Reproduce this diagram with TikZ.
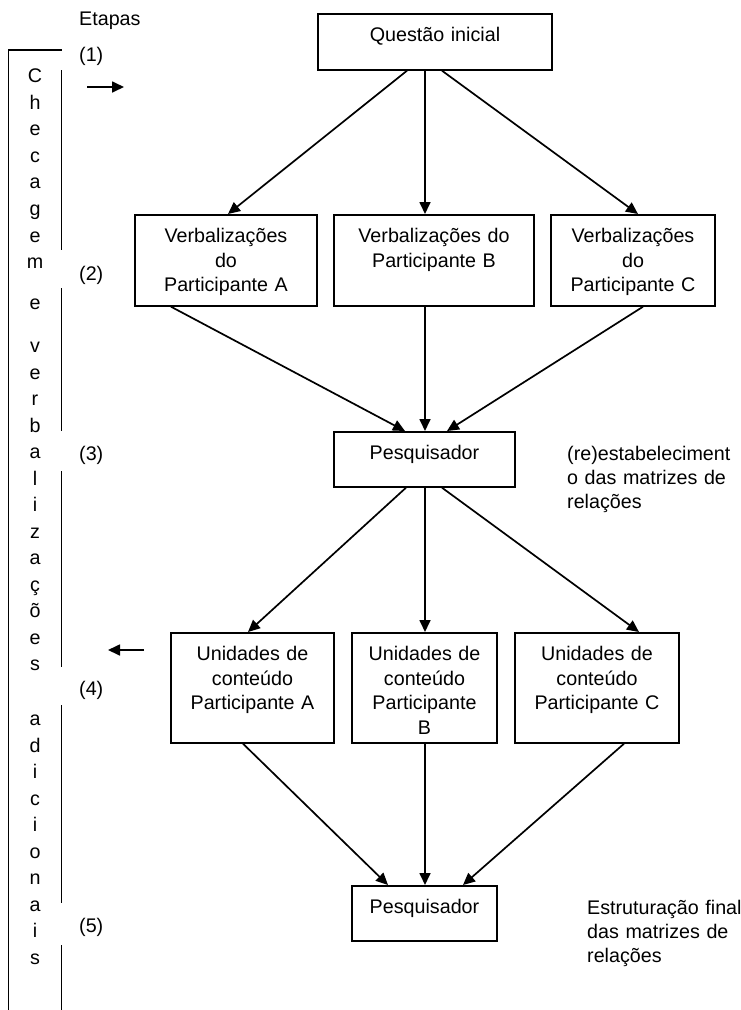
\documentclass[tikz,border=0pt]{standalone}
\usepackage{fontspec}
\setmainfont{Liberation Sans}
\usepackage{tikz}
\usetikzlibrary{arrows.meta,calc}

\begin{document}
\begin{tikzpicture}[x=1pt, y=-1pt,
  every node/.style={font=\fontsize{19.7}{24.4}\selectfont},
  caixa/.style={draw, line width=1.7pt, align=center, inner sep=0pt, anchor=north, text height=28pt},
  seta/.style={-{Triangle[length=12pt,width=11pt]}, line width=1.7pt},
  linha/.style={line width=1.7pt},
  letra/.style={anchor=base, inner sep=0pt},
  etapa/.style={anchor=base west, inner sep=0pt},
  nota/.style={anchor=base west, inner sep=0pt, align=left, text width=175pt}]
\path[fill=white, use as bounding box] (0,0) rectangle (741,1010);

% coluna da esquerda
\draw[linha] (8.5,1012) -- (8.5,50) -- (62,50);
\foreach \a/\b in {70/250, 288/431, 471/667, 705/903, 945/1012}
  \draw[linha] (61.5,\a) -- (61.5,\b);
\foreach \l/\y [count=\i] in {C/82, h/109, e/135, c/162, a/188, g/215, e/242, m/268,
    e/309, v/352, e/379, r/405, b/432, a/458, l/485, i/511, z/538, a/564, ç/591, õ/617, e/644, s/670,
    a/725, d/752, i/778, c/805, i/831, o/858, n/884, a/911, i/937, s/964}
  \node[letra] (l\i) at (35,\y) {\l};

% etapas
\node[etapa] (et) at (79,25) {Etapas};
\node[etapa] (e1) at (79,61) {(1)};
\node[etapa] (e2) at (79,280) {(2)};
\node[etapa] (e3) at (79,460) {(3)};
\node[etapa] (e4) at (79,695) {(4)};
\node[etapa] (e5) at (79,932) {(5)};

\coordinate (d1a) at (87,87);
\coordinate (d1b) at (124,87);
\draw[seta] (d1a) -- (d1b);
\coordinate (d4a) at (144,650);
\coordinate (d4b) at (108,650);
\draw[seta] (d4a) -- (d4b);

% caixas
\node[caixa, text width=234pt, text depth=28pt] (qi) at (435,13) {Questão inicial};
\node[caixa, text width=182pt, text depth=63pt] (va) at (226,214) {Verbalizações\\do\\Participante A};
\node[caixa, text width=200pt, text depth=63pt] (vb) at (434,214) {Verbalizações do\\Participante B};
\node[caixa, text width=164pt, text depth=63pt] (vc) at (633,214) {Verbalizações\\do\\Participante C};
\node[caixa, text width=181pt, text depth=27pt] (p1) at (424.5,431) {Pesquisador};
\node[caixa, text width=163pt, text depth=82pt] (ua) at (252.5,632) {Unidades de\\conteúdo\\Participante A};
\node[caixa, text width=145pt, text depth=82pt] (ub) at (424.5,632) {Unidades de\\conteúdo\\Participante\\B};
\node[caixa, text width=164pt, text depth=82pt] (uc) at (597,632) {Unidades de\\conteúdo\\Participante C};
\node[caixa, text width=145pt, text depth=27pt] (p2) at (424.5,885) {Pesquisador};

\node[nota] (n1) at (567,460) {(re)estabeleciment\\o das matrizes de\\relações};
\node[nota] (n2) at (587,914) {Estruturação final\\das matrizes de\\relações};

% setas
\draw[seta] ([xshift=-28pt]qi.south) -- ([xshift=2pt]va.north);
\draw[seta] ([xshift=-10pt]qi.south) -- ([xshift=-9pt]vb.north);
\draw[seta] ([xshift=7pt]qi.south) -- ([xshift=5pt]vc.north);
\draw[seta] ([xshift=-55pt]va.south) -- ([xshift=-19.5pt]p1.north);
\draw[seta] ([xshift=-9pt]vb.south) -- ([xshift=0.5pt]p1.north);
\draw[seta] ([xshift=10pt]vc.south) -- ([xshift=22.5pt]p1.north);
\draw[seta] ([xshift=-18.5pt]p1.south) -- ([xshift=-4.5pt]ua.north);
\draw[seta] ([xshift=0.5pt]p1.south) -- ([xshift=0.5pt]ub.north);
\draw[seta] ([xshift=17.5pt]p1.south) -- ([xshift=42pt]uc.north);
\draw[seta] ([xshift=-9.5pt]ua.south) -- ([xshift=-36.5pt]p2.north);
\draw[seta] ([xshift=0.5pt]ub.south) -- ([xshift=0.5pt]p2.north);
\draw[seta] ([xshift=27pt]uc.south) -- ([xshift=38.5pt]p2.north);
\end{tikzpicture}
\end{document}
